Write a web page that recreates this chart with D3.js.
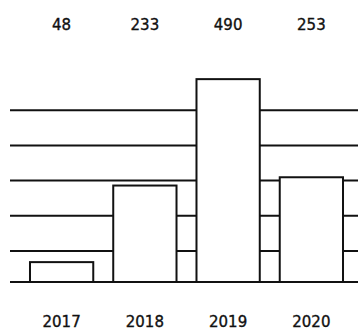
<!DOCTYPE html>
<html>
<head>
<meta charset="utf-8">
<script src="https://cdn.jsdelivr.net/npm/d3@7/dist/d3.min.js"></script>
<style>
  html, body { margin: 0; padding: 0; background: #fff; }
  svg { display: block; }
  text { font-family: "DejaVu Sans", sans-serif; font-weight: normal; font-size: 15px; fill: #111; stroke: #111; stroke-width: 0.35px; }
</style>
</head>
<body>
<svg id="chart" width="358" height="331"></svg>
<script>
// Yearly totals
const years = ["2017", "2018", "2019", "2020"];
const totals = [48, 233, 490, 253];
// Horizontal guide lines (value levels)
const gridLevels = [75, 160, 245, 330, 415];

const width = 358, height = 331;
const baseY = 282;

const svg = d3.select("#chart");

const x = d3.scaleBand()
  .domain(years)
  .range([20, 353])
  .paddingInner(0.24)
  .paddingOuter(0.12);

const y = d3.scaleLinear()
  .domain([0, 500])
  .range([baseY, baseY - 207]);

// guide lines
svg.append("g")
  .selectAll("line")
  .data(gridLevels)
  .join("line")
  .attr("x1", 10)
  .attr("x2", width)
  .attr("y1", d => y(d))
  .attr("y2", d => y(d))
  .attr("stroke", "#111")
  .attr("stroke-width", 2);

// baseline
svg.append("line")
  .attr("x1", 10)
  .attr("x2", width)
  .attr("y1", y(0))
  .attr("y2", y(0))
  .attr("stroke", "#111")
  .attr("stroke-width", 2.2);

// bars
svg.append("g")
  .selectAll("rect")
  .data(years)
  .join("rect")
  .attr("x", d => x(d))
  .attr("width", x.bandwidth())
  .attr("y", (d, i) => y(totals[i]))
  .attr("height", (d, i) => y(0) - y(totals[i]))
  .attr("fill", "#fff")
  .attr("stroke", "#111")
  .attr("stroke-width", 2);

// value labels across the top
svg.append("g")
  .selectAll("text")
  .data(years)
  .join("text")
  .attr("x", d => x(d) + x.bandwidth() / 2)
  .attr("y", 29.5)
  .attr("text-anchor", "middle")
  .text((d, i) => totals[i]);

// year labels along the bottom
const xAxis = d3.axisBottom(x).tickSize(0).tickPadding(0);
const gx = svg.append("g")
  .attr("transform", "translate(0,316)")
  .call(xAxis);
gx.select(".domain").remove();
gx.selectAll("text")
  .attr("dy", null)
  .attr("y", 11)
  .attr("fill", "#111")
  .style("font-family", "DejaVu Sans, sans-serif")
  .style("font-weight", "normal")
  .style("font-size", "15px");
</script>
</body>
</html>
